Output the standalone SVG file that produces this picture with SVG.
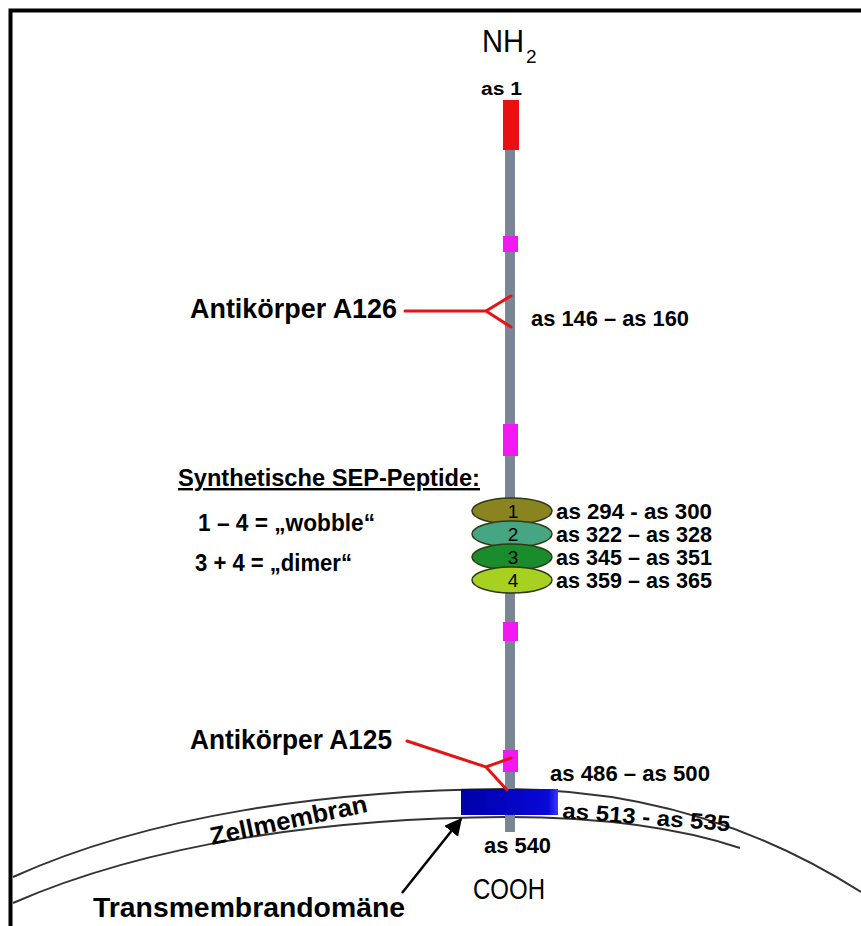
<svg xmlns="http://www.w3.org/2000/svg" width="861" height="926" viewBox="0 0 861 926">
<defs>
<style>
text{font-family:"Liberation Sans",Arial,sans-serif;fill:#000}
.b{font-weight:bold}
.lab{font-weight:bold;font-size:22px}
.ab{stroke:#e41414;stroke-width:3;fill:none;stroke-linecap:round}
.mem{stroke:#333;stroke-width:2;fill:none}
.mag{fill:#f01af0}
.ell{stroke:#2d3a14;stroke-width:1.5}
.num{font-size:19px;text-anchor:middle}
</style>
<linearGradient id="tmg" x1="0" y1="0" x2="1" y2="0">
<stop offset="0" stop-color="#0000a8"/>
<stop offset="0.9" stop-color="#0808d8"/>
<stop offset="1" stop-color="#3a3aff"/>
</linearGradient>
<marker id="ah" viewBox="0 0 10 10" refX="9" refY="5" markerWidth="7" markerHeight="7" orient="auto">
<path d="M0,0 L10,5 L0,10 z" fill="#000"/>
</marker>
</defs>
<rect width="861" height="926" fill="#fff"/>
<path d="M10.5 926 V10.5 H861" stroke="#000" stroke-width="4" fill="none"/>

<g id="membrane">
<path class="mem" d="M13 877 C150 815 330 790 505 789 C620 789 740 815 861 892"/>
<path class="mem" d="M13 903 C150 843 330 818 505 817 C600 817 680 828 740 848"/>
<text transform="translate(212,845) rotate(-12)" font-size="25" class="b" textLength="160" lengthAdjust="spacingAndGlyphs">Zellmembran</text>
</g>

<g id="protein">
<rect x="505" y="148" width="10" height="684" fill="#7a8696"/>
<rect x="503" y="100" width="16" height="50" fill="#e81010"/>
<rect class="mag" x="503" y="236" width="15" height="16"/>
<rect class="mag" x="503" y="424" width="15" height="32"/>
<rect class="mag" x="503" y="622" width="15" height="19"/>
<rect class="mag" x="503" y="750" width="15" height="22"/>
</g>

<g id="tmdomain">
<rect x="461" y="789" width="97" height="26" fill="url(#tmg)"/>
</g>

<g id="peptides">
<ellipse class="ell" cx="512" cy="511" rx="40" ry="13" fill="#8a8420"/>
<ellipse class="ell" cx="512" cy="534" rx="40" ry="13" fill="#46a684"/>
<ellipse class="ell" cx="512" cy="557" rx="40" ry="13" fill="#1a8c2c"/>
<ellipse class="ell" cx="512" cy="580" rx="40" ry="13" fill="#a8d020"/>
<text class="num" x="513" y="518">1</text>
<text class="num" x="513" y="541">2</text>
<text class="num" x="513" y="564">3</text>
<text class="num" x="513" y="587">4</text>
<text class="lab" x="556" y="519" textLength="156" lengthAdjust="spacingAndGlyphs">as 294 -  as 300</text>
<text class="lab" x="556" y="542" textLength="156" lengthAdjust="spacingAndGlyphs">as 322 – as 328</text>
<text class="lab" x="556" y="565" textLength="156" lengthAdjust="spacingAndGlyphs">as 345 – as 351</text>
<text class="lab" x="556" y="588" textLength="156" lengthAdjust="spacingAndGlyphs">as 359 – as 365</text>
</g>

<g id="legend">
<text x="178" y="486" font-size="24" class="b" text-decoration="underline" textLength="302" lengthAdjust="spacingAndGlyphs">Synthetische SEP-Peptide:</text>
<text x="198" y="531" font-size="24" class="b" textLength="177" lengthAdjust="spacingAndGlyphs">1 – 4 = „wobble“</text>
<text x="195" y="571" font-size="24" class="b" textLength="157" lengthAdjust="spacingAndGlyphs">3 + 4 = „dimer“</text>
</g>

<g id="connectors">
<path class="ab" d="M405 311 H486 L511 296 M486 311 L511 327"/>
<path class="ab" d="M407 741 L486 767 L511 758 M486 767 L507 790"/>
<line x1="402" y1="893" x2="461" y2="819" stroke="#000" stroke-width="2.5" marker-end="url(#ah)"/>
</g>

<g id="labels">
<text x="482" y="52" font-size="31" textLength="42" lengthAdjust="spacingAndGlyphs">NH</text>
<text x="526" y="63" font-size="19">2</text>
<text x="481" y="95" font-size="18" class="b" textLength="41" lengthAdjust="spacingAndGlyphs">as 1</text>
<text x="190" y="318" font-size="27" class="b" textLength="207" lengthAdjust="spacingAndGlyphs">Antikörper A126</text>
<text class="lab" x="531" y="326" textLength="158" lengthAdjust="spacingAndGlyphs">as 146 – as 160</text>
<text x="190" y="749" font-size="27" class="b" textLength="202" lengthAdjust="spacingAndGlyphs">Antikörper A125</text>
<text class="lab" x="550" y="781" textLength="160" lengthAdjust="spacingAndGlyphs">as 486 – as 500</text>
<text class="lab" transform="translate(562,818) rotate(4.5)" textLength="168" lengthAdjust="spacingAndGlyphs">as 513 - as 535</text>
<text class="lab" x="484" y="853" textLength="67" lengthAdjust="spacingAndGlyphs">as 540</text>
<text x="473" y="899" font-size="29" textLength="72" lengthAdjust="spacingAndGlyphs">COOH</text>
<text x="93" y="917" font-size="28" class="b" textLength="312" lengthAdjust="spacingAndGlyphs">Transmembrandomäne</text>
</g>
</svg>
